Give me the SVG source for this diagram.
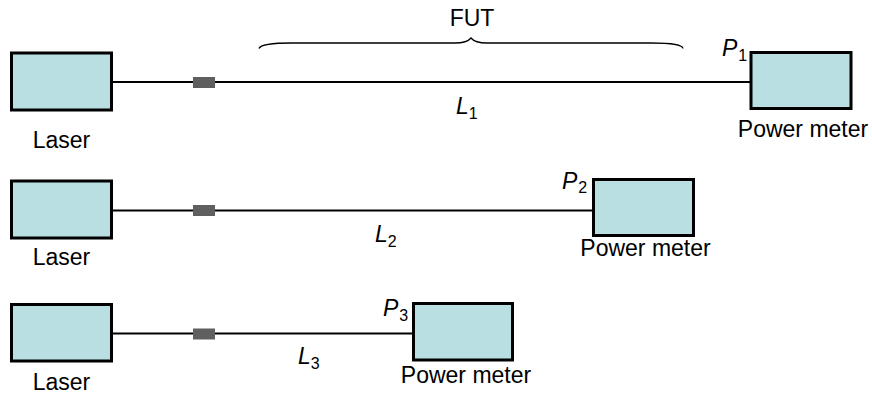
<svg xmlns="http://www.w3.org/2000/svg" width="872" height="396" viewBox="0 0 872 396">
<style>
.box{fill:#b9dfe2;stroke:#000;stroke-width:3}
.fib{stroke:#000;stroke-width:2.2;fill:none}
.con{fill:#5f5f5f}
text{font-family:"Liberation Sans",Arial,sans-serif;font-size:23px;fill:#000}
.it{font-style:italic}
.sub{font-size:16px;font-style:normal}
</style>
<rect width="872" height="396" fill="#fff"/>
<g id="connectors">
<line class="fib" x1="112" y1="82" x2="751" y2="82"/>
<line class="fib" x1="112" y1="210.5" x2="593" y2="210.5"/>
<line class="fib" x1="112" y1="333.5" x2="413" y2="333.5"/>
<rect class="con" x="193" y="77" width="22" height="11"/>
<rect class="con" x="193" y="205" width="22" height="11"/>
<rect class="con" x="193" y="328.5" width="22" height="11"/>
</g>
<g id="fut">
<path d="M259,48.5 Q261,43 292,43 L455,43 Q467,43 471,38 Q475,43 487,43 L652,43 Q682,43 683,48.5" fill="none" stroke="#000" stroke-width="1.3"/>
<text x="472" y="26" text-anchor="middle">FUT</text>
</g>
<g id="laser1">
<rect class="box" x="11.5" y="53" width="100" height="57"/>
<text x="61.5" y="148" text-anchor="middle">Laser</text>
</g>
<g id="meter1">
<rect class="box" x="751" y="52.5" width="100" height="56"/>
<text x="803" y="137" text-anchor="middle">Power meter</text>
<text x="722" y="56" class="it">P<tspan class="sub" dx="1" dy="4.5">1</tspan></text>
</g>
<g id="label-l1"><text x="456" y="114" class="it">L<tspan class="sub" dx="0" dy="4.5">1</tspan></text></g>
<g id="laser2">
<rect class="box" x="11.5" y="181" width="100" height="57"/>
<text x="61.5" y="265" text-anchor="middle">Laser</text>
</g>
<g id="meter2">
<rect class="box" x="593.5" y="179.5" width="100" height="56"/>
<text x="645.5" y="256" text-anchor="middle">Power meter</text>
<text x="562" y="188.5" class="it">P<tspan class="sub" dx="1" dy="4.5">2</tspan></text>
</g>
<g id="label-l2"><text x="375" y="242" class="it">L<tspan class="sub" dx="0" dy="4.5">2</tspan></text></g>
<g id="laser3">
<rect class="box" x="11.5" y="304.5" width="100" height="56.5"/>
<text x="61.5" y="390" text-anchor="middle">Laser</text>
</g>
<g id="meter3">
<rect class="box" x="413.5" y="303.5" width="99" height="56.5"/>
<text x="466" y="383" text-anchor="middle">Power meter</text>
<text x="383" y="316" class="it">P<tspan class="sub" dx="1" dy="4.5">3</tspan></text>
</g>
<g id="label-l3"><text x="298" y="364" class="it">L<tspan class="sub" dx="0" dy="4.5">3</tspan></text></g>
</svg>
